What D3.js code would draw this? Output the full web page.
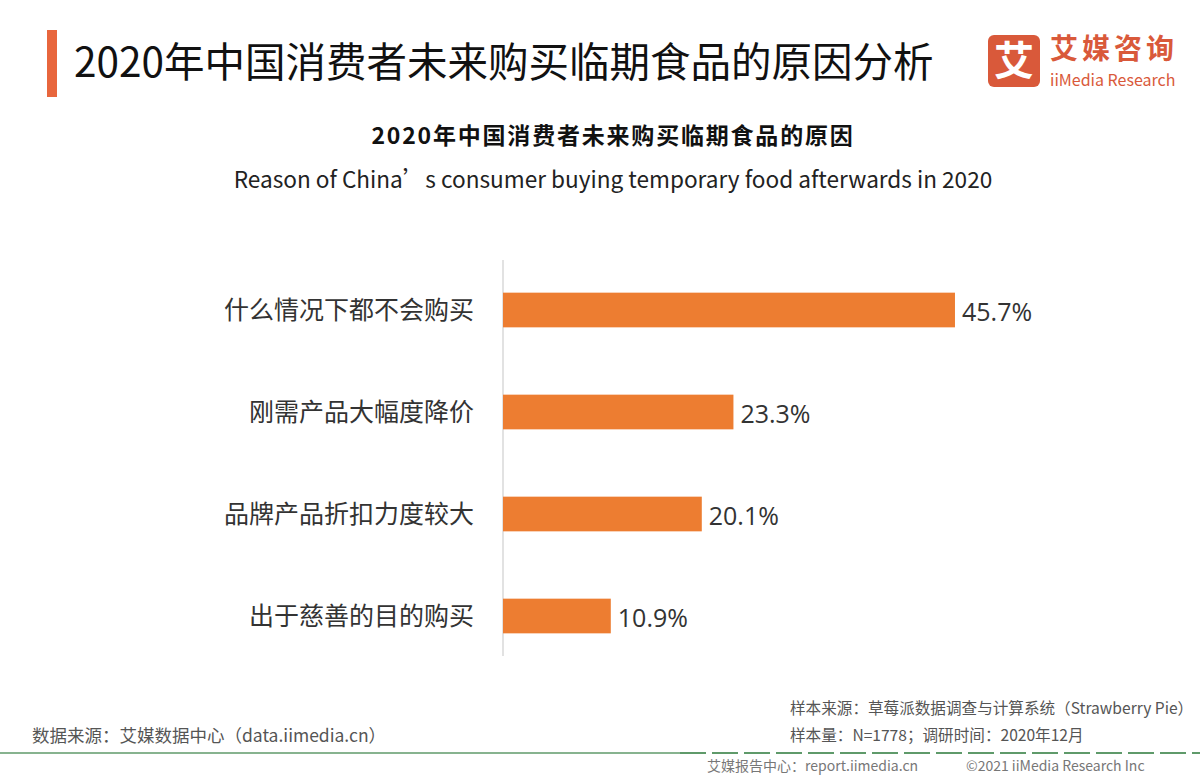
<!DOCTYPE html>
<html><head><meta charset="utf-8">
<script src="https://cdn.jsdelivr.net/npm/d3@7"></script>
<style>body{margin:0;background:#fff}svg{display:block}</style>
</head><body>
<script>
const categories = ["什么情况下都不会购买","刚需产品大幅度降价","品牌产品折扣力度较大","出于慈善的目的购买"];
const values = [45.7, 23.3, 20.1, 10.9];
const valueLabels = ["45.7%","23.3%","20.1%","10.9%"];

const W = 1200, H = 780;
const font = "'Noto Sans CJK SC','Noto Sans',sans-serif";
const svg = d3.select("body").append("svg").attr("width", W).attr("height", H).style("font-family", font);
svg.append("rect").attr("width", W).attr("height", H).attr("fill", "#fff");

// header
svg.append("rect").attr("x", 47).attr("y", 30).attr("width", 10).attr("height", 67).attr("fill", "#E8663D");
svg.append("text").attr("x", 74).attr("y", 77).attr("font-size", 40.5).attr("fill", "#111")
  .text("2020年中国消费者未来购买临期食品的原因分析");

// logo
const lg = svg.append("g");
lg.append("rect").attr("x", 988).attr("y", 35).attr("width", 52).attr("height", 52).attr("rx", 6).attr("fill", "#D9593A");
lg.append("text").attr("x", 1014).attr("y", 75).attr("text-anchor", "middle").attr("font-size", 40).attr("font-weight", "bold").attr("fill", "#fff").text("艾");
lg.append("text").attr("x", 1050).attr("y", 59).attr("font-size", 28).attr("font-weight", "bold").attr("fill", "#D9593A").attr("letter-spacing", 4).text("艾媒咨询");
lg.append("text").attr("x", 1050).attr("y", 86).attr("font-size", 16).attr("fill", "#D9593A").text("iiMedia Research");

// chart titles
svg.append("text").attr("x", 613).attr("y", 144).attr("text-anchor", "middle").attr("font-size", 23).attr("font-weight", "bold").attr("fill", "#111").attr("letter-spacing", 1.8)
  .text("2020年中国消费者未来购买临期食品的原因");
svg.append("text").attr("x", 613).attr("y", 188).attr("text-anchor", "middle").attr("font-size", 22.6).attr("fill", "#222")
  .text("Reason of China’s consumer buying temporary food afterwards in 2020");

// scales
const x0 = 503;
const x = d3.scaleLinear().domain([0, 50]).range([x0, x0 + 494.5]);
const y = d3.scaleBand().domain(categories).range([259, 667]).paddingInner(0.66).paddingOuter(0.33);

svg.append("line").attr("x1", x0).attr("x2", x0).attr("y1", 260).attr("y2", 656).attr("stroke", "#d9d9d9").attr("stroke-width", 1.5);

svg.selectAll("rect.bar").data(values).enter().append("rect").attr("class", "bar")
  .attr("x", x(0)).attr("y", (d, i) => y(categories[i]))
  .attr("width", d => x(d) - x(0)).attr("height", y.bandwidth()).attr("fill", "#ED7D31");

svg.selectAll("text.cat").data(categories).enter().append("text").attr("class", "cat")
  .attr("x", 474).attr("y", d => y(d) + y.bandwidth() / 2).attr("dy", "0.35em")
  .attr("text-anchor", "end").attr("font-size", 25).attr("fill", "#333").text(d => d);

svg.selectAll("text.val").data(values).enter().append("text").attr("class", "val")
  .attr("x", d => x(d) + 7).attr("y", (d, i) => y(categories[i]) + y.bandwidth() / 2 + 2).attr("dy", "0.35em")
  .attr("font-size", 25).attr("fill", "#333").attr("font-family", "'Open Sans','Noto Sans',sans-serif").text((d, i) => valueLabels[i]);

// footer
svg.append("text").attr("x", 790).attr("y", 714).attr("font-size", 15.6).attr("fill", "#555")
  .text("样本来源：草莓派数据调查与计算系统（Strawberry Pie）");
svg.append("text").attr("x", 790).attr("y", 741).attr("font-size", 15.6).attr("fill", "#555")
  .text("样本量：N=1778；调研时间：2020年12月");
svg.append("text").attr("x", 32).attr("y", 742).attr("font-size", 17.5).attr("fill", "#555")
  .text("数据来源：艾媒数据中心（data.iimedia.cn）");
svg.append("line").attr("x1", 0).attr("x2", 680).attr("y1", 753).attr("y2", 753).attr("stroke", "#5f9a6a").attr("stroke-width", 1.5);
svg.append("line").attr("x1", 680).attr("x2", W).attr("y1", 753).attr("y2", 753).attr("stroke", "#5f9a6a").attr("stroke-width", 2).attr("stroke-dasharray", "26,6");
svg.append("text").attr("x", 707).attr("y", 771).attr("font-size", 14).attr("fill", "#777").text("艾媒报告中心：report.iimedia.cn");
svg.append("text").attr("x", 966).attr("y", 771).attr("font-size", 14).attr("fill", "#777").text("©2021  iiMedia Research Inc");
</script>
</body></html>
